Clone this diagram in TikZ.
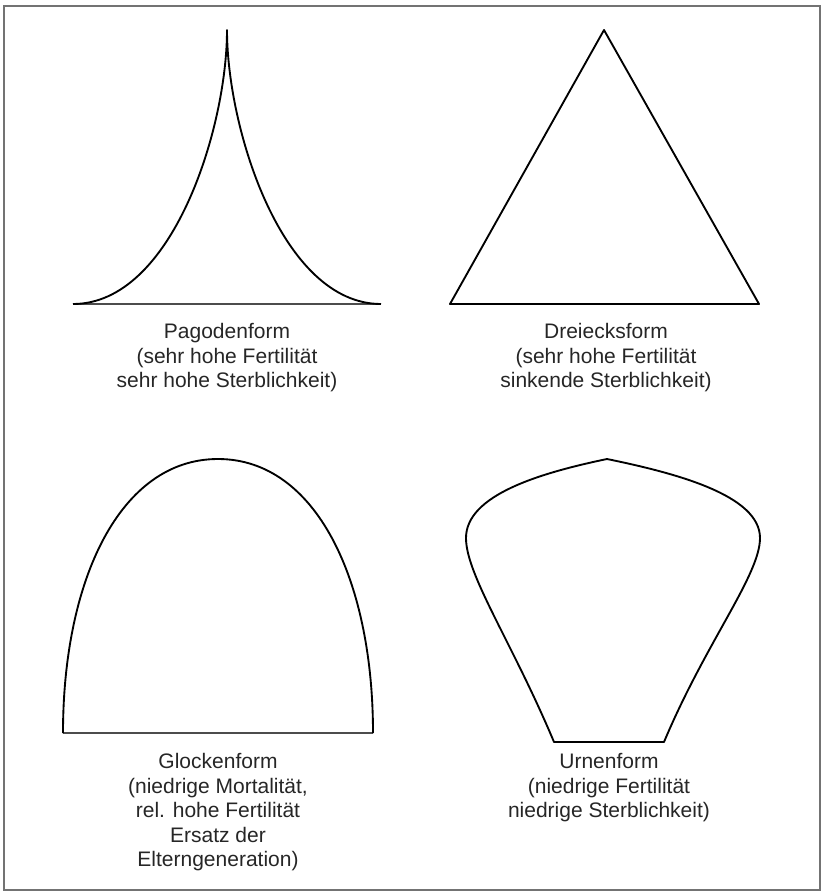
\documentclass[tikz,border=0pt]{standalone}
\usepackage{fontspec}
\setmainfont{Liberation Sans}
\usepackage{tikz}
\usetikzlibrary{calc, positioning}

\tikzset{
    rahmen/.style={draw=black!55, line width=1.5pt},
    umriss/.style={draw=black, line width=1.4pt, line join=round},
    basis/.style={draw=black!70, line width=1.2pt},
    beschriftung/.style={align=center, inner sep=0pt, anchor=north, text=black!85,
        font=\fontsize{15.75}{18.4}\selectfont}
}

\begin{document}
\begin{tikzpicture}[x=0.75pt, y=-0.75pt]
    \useasboundingbox (0,0) rectangle (823,892);
    % 1. Rahmen
    \draw[rahmen] (4,6) rectangle (820,890);

    % 2. Pagodenform
    \draw[basis] (73,304) -- (381,304);
    \draw[umriss] (73,304) .. controls (172,304) and (227,129) .. (227,30)
        .. controls (227,129) and (282,304) .. (381,304);
    \node[beschriftung] (pagode) at (227,323)
        {Pagodenform\\(sehr hohe Fertilität\\sehr hohe Sterblichkeit)};

    % 3. Dreiecksform
    \draw[umriss] (604,30) -- (759,304) -- (450,304) -- cycle;
    \node[beschriftung] (dreieck) at (606,323)
        {Dreiecksform\\(sehr hohe Fertilität\\sinkende Sterblichkeit)};

    % 4. Glockenform
    \draw[basis] (63,733) -- (373,733);
    \draw[umriss] (63,733) .. controls (63,580) and (120,459) .. (218,459)
        .. controls (316,459) and (373,580) .. (373,733);
    \node[beschriftung] (glocke) at (218,753)
        {Glockenform\\(niedrige Mortalität,\\rel. hohe Fertilität\\Ersatz der\\Elterngeneration)};

    % 5. Urnenform
    \draw[umriss] (554,742) .. controls (512,642) and (466,575) .. (466,538)
        .. controls (466,495) and (540,473) .. (607,459)
        .. controls (675,473) and (760,495) .. (760,538)
        .. controls (760,575) and (706,642) .. (664,742) -- cycle;
    \node[beschriftung] (urne) at (609,753)
        {Urnenform\\(niedrige Fertilität\\niedrige Sterblichkeit)};
\end{tikzpicture}
\end{document}
